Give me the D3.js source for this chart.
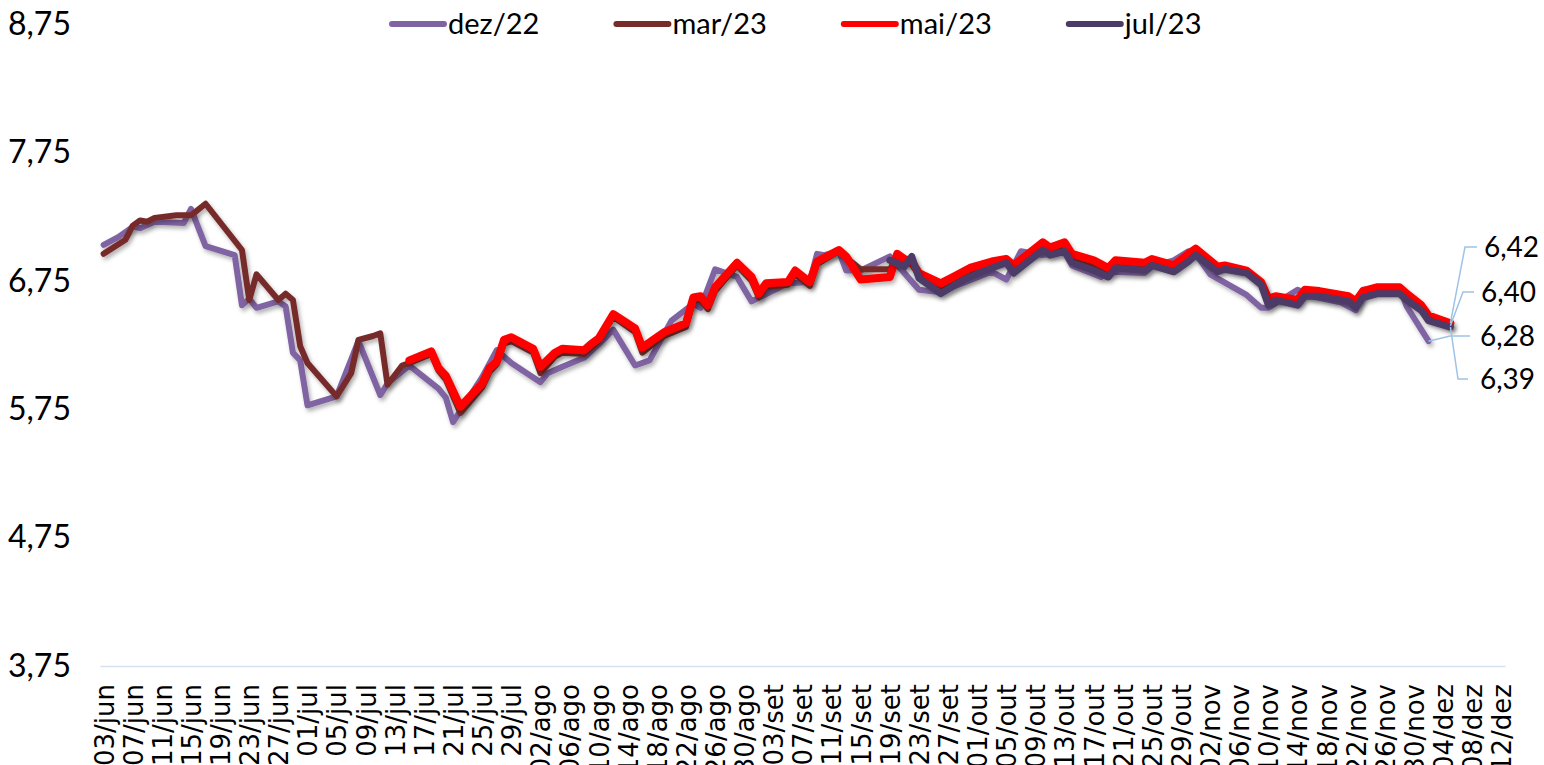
<!DOCTYPE html>
<html>
<head>
<meta charset="utf-8">
<script src="https://cdn.jsdelivr.net/npm/d3@7"></script>
<style>
  html, body { margin: 0; padding: 0; background: #ffffff; overflow: hidden; }
  svg { display: block; }
</style>
</head>
<body>
<svg id="chart" width="1544" height="765"></svg>
<script>
// ---- data -------------------------------------------------------------
const seriesNames = ["dez/22", "mar/23", "mai/23", "jul/23"];

const datesDez22 = ["03/06","05/06","07/06","08/06","10/06","14/06","15/06","17/06","21/06","22/06","23/06","24/06","27/06","28/06","29/06","30/06","01/07","05/07","08/07","11/07","12/07","15/07","19/07","20/07","21/07","25/07","27/07","29/07","02/08","03/08","05/08","08/08","11/08","12/08","15/08","17/08","20/08","23/08","24/08","26/08","27/08","29/08","31/08","05/09","08/09","09/09","10/09","12/09","13/09","15/09","19/09","23/09","26/09","28/09","03/10","05/10","07/10","10/10","13/10","14/10","18/10","19/10","24/10","25/10","28/10","30/10","31/10","02/11","07/11","09/11","10/11","12/11","14/11","16/11","20/11","22/11","23/11","28/11","29/11","01/12","02/12"];
const valuesDez22 = [7.03,7.09,7.17,7.16,7.21,7.20,7.31,7.02,6.95,6.56,6.61,6.54,6.59,6.55,6.19,6.13,5.78,5.85,6.28,5.86,5.95,6.09,5.91,5.84,5.65,6.00,6.21,6.11,5.96,6.03,6.08,6.15,6.31,6.37,6.09,6.13,6.44,6.57,6.54,6.84,6.82,6.78,6.59,6.73,6.74,6.96,6.95,6.98,6.83,6.83,6.94,6.68,6.66,6.71,6.82,6.76,6.98,6.95,6.97,6.87,6.78,6.82,6.81,6.86,6.91,6.98,6.96,6.80,6.64,6.54,6.54,6.61,6.68,6.63,6.58,6.52,6.68,6.70,6.55,6.37,6.28];

const datesMar23 = ["03/06","06/06","07/06","08/06","09/06","10/06","13/06","15/06","17/06","22/06","23/06","24/06","27/06","28/06","29/06","30/06","01/07","05/07","07/07","08/07","10/07","11/07","12/07","14/07","15/07","18/07","19/07","20/07","22/07","25/07","26/07","27/07","28/07","29/07","01/08","02/08","04/08","05/08","08/08","09/08","10/08","12/08","15/08","16/08","18/08","19/08","22/08","23/08","24/08","25/08","26/08","29/08","31/08","01/09","02/09","05/09","06/09","08/09","09/09","12/09","13/09","15/09","19/09","20/09","21/09","22/09","23/09","26/09","28/09","30/09","03/10","05/10","06/10","10/10","11/10","13/10","14/10","17/10","19/10","20/10","24/10","25/10","28/10","30/10","31/10","03/11","04/11","07/11","09/11","10/11","11/11","14/11","15/11","17/11","21/11","22/11","23/11","25/11","28/11","29/11","01/12","02/12","05/12"];
const valuesMar23 = [6.96,7.07,7.18,7.22,7.21,7.24,7.26,7.26,7.35,6.99,6.60,6.80,6.60,6.65,6.60,6.24,6.11,5.85,6.03,6.29,6.32,6.34,5.94,6.09,6.11,6.18,6.05,5.98,5.72,5.92,6.04,6.10,6.26,6.28,6.19,6.03,6.16,6.19,6.18,6.23,6.28,6.47,6.35,6.19,6.28,6.32,6.39,6.59,6.60,6.53,6.67,6.87,6.75,6.62,6.70,6.72,6.80,6.71,6.88,6.98,6.93,6.84,6.84,6.93,6.89,6.88,6.79,6.70,6.77,6.82,6.88,6.91,6.84,7.03,6.98,7.02,6.93,6.88,6.82,6.89,6.87,6.90,6.85,6.94,6.98,6.84,6.86,6.82,6.73,6.59,6.62,6.58,6.66,6.65,6.61,6.57,6.65,6.68,6.68,6.63,6.54,6.46,6.40];

const datesMai23 = ["15/07","18/07","19/07","20/07","22/07","25/07","26/07","27/07","28/07","29/07","01/08","02/08","04/08","05/08","08/08","09/08","10/08","12/08","15/08","16/08","18/08","19/08","22/08","23/08","24/08","25/08","26/08","29/08","31/08","01/09","02/09","05/09","06/09","08/09","09/09","12/09","13/09","15/09","19/09","20/09","21/09","22/09","23/09","26/09","28/09","30/09","03/10","05/10","06/10","10/10","11/10","13/10","14/10","17/10","19/10","20/10","24/10","25/10","28/10","30/10","31/10","03/11","04/11","07/11","09/11","10/11","11/11","14/11","15/11","17/11","21/11","22/11","23/11","25/11","28/11","29/11","01/12","02/12","05/12"];
const valuesMai23 = [6.13,6.20,6.07,6.01,5.77,5.95,6.07,6.12,6.29,6.31,6.22,6.08,6.19,6.22,6.21,6.26,6.30,6.49,6.38,6.23,6.31,6.35,6.42,6.62,6.63,6.56,6.70,6.89,6.78,6.65,6.73,6.74,6.83,6.74,6.90,6.99,6.94,6.76,6.78,6.96,6.92,6.90,6.81,6.73,6.79,6.85,6.90,6.92,6.87,7.05,7.01,7.05,6.96,6.91,6.85,6.91,6.89,6.92,6.87,6.96,7.00,6.86,6.87,6.83,6.74,6.61,6.63,6.60,6.68,6.67,6.63,6.59,6.67,6.70,6.70,6.65,6.56,6.48,6.42];

const datesJul23 = ["19/09","21/09","22/09","23/09","26/09","28/09","30/09","03/10","05/10","06/10","10/10","11/10","13/10","14/10","17/10","19/10","20/10","24/10","25/10","28/10","30/10","31/10","03/11","04/11","07/11","09/11","10/11","11/11","14/11","15/11","17/11","21/11","22/11","23/11","25/11","28/11","29/11","01/12","02/12","05/12"];
const valuesJul23 = [6.91,6.86,6.94,6.77,6.65,6.72,6.78,6.85,6.89,6.81,6.99,6.95,6.98,6.89,6.83,6.78,6.85,6.83,6.87,6.82,6.90,6.95,6.82,6.84,6.81,6.72,6.56,6.60,6.56,6.63,6.63,6.59,6.54,6.62,6.65,6.65,6.60,6.52,6.44,6.39];

const yTickValues = [3.75, 4.75, 5.75, 6.75, 7.75, 8.75];
const monthAbbr = ["jan","fev","mar","abr","mai","jun","jul","ago","set","out","nov","dez"];
const axisStart = "03/06";
const axisEnd = "12/12";
const tickStepDays = 4;

// ---- styling ------------------------------------------------------------
const seriesStyle = {
  "dez/22": { color: "#8064a2", width: 6, labelY: 336, elbowX: 1450, stubX: 1470, textX: 1480 },
  "mar/23": { color: "#772c2a", width: 6, labelY: 292, elbowX: 1463, stubX: 1474, textX: 1481 },
  "mai/23": { color: "#ff0000", width: 8, labelY: 247, elbowX: 1465, stubX: 1477, textX: 1484 },
  "jul/23": { color: "#4b3b66", width: 7, labelY: 379, elbowX: 1458, stubX: 1468, textX: 1480 }
};

const YEAR = 2023;
const parseDay = s => {
  const [d, m] = s.split("/").map(Number);
  return new Date(Date.UTC(YEAR, m - 1, d));
};

const series = [
  { name: "dez/22", dates: datesDez22, values: valuesDez22 },
  { name: "mar/23", dates: datesMar23, values: valuesMar23 },
  { name: "mai/23", dates: datesMai23, values: valuesMai23 },
  { name: "jul/23", dates: datesJul23, values: valuesJul23 }
].map(s => ({
  name: s.name,
  points: s.dates.map((d, i) => ({ date: parseDay(d), value: s.values[i] }))
}));

// ---- scales -------------------------------------------------------------
const svg = d3.select("#chart");
const plotLeft = 100, plotRight = 1505, plotTop = 24, plotBottom = 666;

const start = parseDay(axisStart), end = parseDay(axisEnd);
const halfDay = 12 * 3600 * 1000;
const x = d3.scaleUtc()
  .domain([new Date(+start - halfDay), new Date(+end + halfDay)])
  .range([plotLeft, plotRight]);
const y = d3.scaleLinear().domain([3.75, 8.75]).range([plotBottom, plotTop]);

const defs = svg.append("defs");
const f = defs.append("filter").attr("id", "lineShadow")
  .attr("filterUnits", "userSpaceOnUse")
  .attr("x", 0).attr("y", 0).attr("width", 1544).attr("height", 765);
f.append("feDropShadow").attr("dx", 2).attr("dy", 3).attr("stdDeviation", 2)
  .attr("flood-color", "#000").attr("flood-opacity", 0.3);

// ---- axes ---------------------------------------------------------------
const tickDates = [];
for (let d = start; +d <= +end; d = d3.utcDay.offset(d, tickStepDays)) tickDates.push(d);
const fmtTick = d => String(d.getUTCDate()).padStart(2, "0") + "/" + monthAbbr[d.getUTCMonth()];

const xAxisG = svg.append("g")
  .attr("transform", `translate(0,${plotBottom})`)
  .call(d3.axisBottom(x).tickValues(tickDates).tickFormat(fmtTick).tickSize(0).tickSizeOuter(0));
xAxisG.select(".domain").attr("stroke", "#d6e2f0").attr("stroke-width", 1.5);
xAxisG.selectAll(".tick text")
  .attr("transform", "rotate(-90)")
  .attr("x", -18).attr("y", 0).attr("dy", "0.36em")
  .attr("text-anchor", "end")
  .attr("fill", "#000")
  .style("font-family", "'DejaVu Sans', sans-serif")
  .style("font-size", "26px");

const yAxisG = svg.append("g")
  .attr("transform", `translate(71,0)`)
  .call(d3.axisLeft(y).tickValues(yTickValues)
    .tickFormat(v => v.toFixed(2).replace(".", ","))
    .tickSize(0).tickPadding(0));
yAxisG.select(".domain").remove();
yAxisG.selectAll(".tick text")
  .attr("fill", "#000")
  .style("font-family", "Lato, sans-serif")
  .style("font-size", "32px");

// ---- lines --------------------------------------------------------------
const line = d3.line().x(d => x(d.date)).y(d => y(d.value));
svg.append("g").selectAll("path").data(series).join("path")
  .attr("d", s => line(s.points))
  .attr("fill", "none")
  .attr("stroke", s => seriesStyle[s.name].color)
  .attr("stroke-width", s => seriesStyle[s.name].width)
  .attr("stroke-linejoin", "round")
  .attr("stroke-linecap", "round")
  .attr("filter", "url(#lineShadow)");

// ---- end-of-series labels with leader lines -------------------------------
const labelG = svg.append("g");
series.forEach(s => {
  const st = seriesStyle[s.name];
  const last = s.points[s.points.length - 1];
  const px = x(last.date), py = y(last.value);
  labelG.append("polyline")
    .attr("points", `${px},${py} ${st.elbowX},${st.labelY} ${st.stubX},${st.labelY}`)
    .attr("fill", "none").attr("stroke", "#9dc3e6").attr("stroke-width", 1.5);
  labelG.append("text")
    .attr("x", st.textX).attr("y", st.labelY).attr("dy", "0.35em")
    .style("font-family", "Lato, sans-serif").style("font-size", "28px")
    .attr("fill", "#000")
    .text(last.value.toFixed(2).replace(".", ","));
});

// ---- legend -------------------------------------------------------------
const legend = svg.append("g").attr("transform", "translate(390,24)");
let lx = 0;
series.forEach(s => {
  const st = seriesStyle[s.name];
  const g = legend.append("g").attr("transform", `translate(${lx},0)`);
  g.append("line").attr("x1", 2).attr("x2", 54).attr("y1", 0).attr("y2", 0)
    .attr("stroke", st.color).attr("stroke-width", 6).attr("stroke-linecap", "round");
  const t = g.append("text").attr("x", 58).attr("y", 0).attr("dy", "0.35em")
    .style("font-family", "Lato, sans-serif").style("font-size", "29px")
    .attr("fill", "#000").text(s.name);
  lx += 58 + t.node().getComputedTextLength() + 75;
});
</script>
</body>
</html>
